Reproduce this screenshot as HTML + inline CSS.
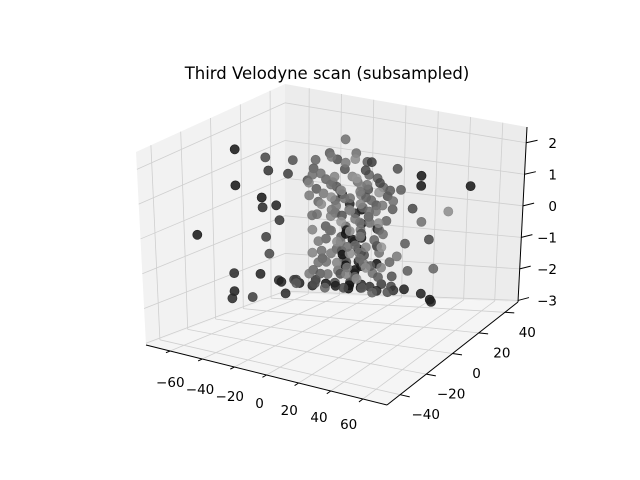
<!DOCTYPE html>
<html><head><meta charset="utf-8"><style>
html,body{margin:0;padding:0;background:#fff;}
svg{display:block;font-family:"DejaVu Sans","Liberation Sans",sans-serif;}
</style></head><body>
<svg id="chart" width="640" height="480" viewBox="0 0 640 480" xmlns="http://www.w3.org/2000/svg">
<text x="327" y="79" text-anchor="middle" font-size="16.5" fill="#000">Third Velodyne scan (subsampled)</text>
<g id="panes"></g>
<g id="grid"></g>
<g id="axes"></g>
<g id="pts"></g>
</svg>
<script>
const xTicks=[-60,-40,-20,0,20,40,60];
const yTicks=[-40,-20,0,20,40];
const zTicks=[-3,-2,-1,0,1,2];
const xs=[
-67,-67,-67,-67,
-60,-60,-62,-58,-60,-62,-58,-56,-55,-52,-58,-55,-50,-48,
-67,-64,-60,
0,5,10,15,15,45,50,10,20,25,30,25,35,40,12,5,
-30,
-38,-25,-10,
-45,-35,-28,-18,-12,
-48,-40,-32,-22,-15,-8,-3,
-50,-42,-36,-30,-24,-18,-12,-6,0,
-48,-40,-35,-30,-25,-20,-15,-10,-5,2,
-45,-38,-32,-27,-22,-17,-12,-7,0,
-44,-36,-30,-25,-20,-15,-9,-2,
-42,-36,-31,-27,-24,-20,-16,-10,-4,
-40,-34,-29,-25,-22,-18,-13,-6,
-41,-35,-30,-26,-23,-19,-14,-8,
-44,-38,-32,-27,-24,-21,-16,-10,-3,
-48,-40,-34,-29,-25,-22,-18,-12,-5,2,
-70,-62,-55,-50,-45,-40,-36,-32,-28,-25,-22,-19,-16,-12,-8,-4,0,5,10,
-28,-15,
-38,-26,-14,-4,
-42,-30,-20,-10,0,
-40,-28,-18,-8,4,
-36,-26,-16,-6,
-40,-30,-20,-10,0,
-38,-28,-18,-8,
-36,-26,-16,-6,2,
-38,-28,-18,-8,
-36,-26,-16,-6,2,
-40,-30,-20,-10,
-50,-40,-30,-20,-10,0,8,
-22,-22,-22,-22,-22,-12,-12,-12];
const ys=[
7,7,-20,5,
20,22,20,25,20,18,20,25,30,30,15,25,30,20,
5,0,10,
45,42,45,45,45,30,40,40,40,40,38,35,30,25,40,40,
42,
40,44,38,
38,42,40,44,36,
40,36,44,38,42,40,36,
38,42,40,36,44,40,38,42,40,
42,38,44,40,36,42,40,38,44,40,
40,44,38,42,36,40,44,38,42,
38,42,40,44,38,42,36,40,
42,38,44,40,36,42,38,44,40,
40,44,38,42,40,36,44,38,
38,42,40,36,44,40,38,42,
42,38,44,40,36,42,40,38,44,
40,36,42,38,44,40,36,42,38,40,
40,42,38,44,36,40,42,38,44,40,36,42,38,40,44,36,42,38,40,
30,32,
28,30,32,28,
30,32,28,30,32,
28,30,32,28,30,
32,28,30,32,
30,32,28,30,32,
28,30,32,28,
30,32,28,30,32,
28,30,32,28,
30,32,28,30,32,
28,30,32,28,
30,32,28,30,32,28,30,
45,45,45,45,45,45,45,45];
const zs=[
1.6,0.6,-0.3,-1.8,
1.2,0.8,-0.2,-0.2,-1.0,-2.0,-1.45,-0.6,0.6,1.0,0.2,-2.3,-2.3,-2.5,
-2.3,-2.4,-2.5,
0.8,0.3,-0.3,0.7,0.4,0.3,0.8,-1.2,-0.5,-1.0,-1.8,-2.5,-2.5,-2.4,-2.0,-1.6,
1.5,
1.1,1.1,1.1,
0.9,0.9,0.9,0.9,0.9,
0.6,0.6,0.6,0.6,0.6,0.6,0.6,
0.3,0.3,0.3,0.3,0.3,0.3,0.3,0.3,0.3,
0,0,0,0,0,0,0,0,0,0,
-0.3,-0.3,-0.3,-0.3,-0.3,-0.3,-0.3,-0.3,-0.3,
-0.6,-0.6,-0.6,-0.6,-0.6,-0.6,-0.6,-0.6,
-1.0,-1.0,-1.0,-1.0,-1.0,-1.0,-1.0,-1.0,-1.0,
-1.3,-1.3,-1.3,-1.3,-1.3,-1.3,-1.3,-1.3,
-1.6,-1.6,-1.6,-1.6,-1.6,-1.6,-1.6,-1.6,
-1.9,-1.9,-1.9,-1.9,-1.9,-1.9,-1.9,-1.9,-1.9,
-2.2,-2.2,-2.2,-2.2,-2.2,-2.2,-2.2,-2.2,-2.2,-2.2,
-2.55,-2.55,-2.55,-2.55,-2.55,-2.55,-2.55,-2.55,-2.55,-2.55,-2.55,-2.55,-2.55,-2.55,-2.55,-2.55,-2.55,-2.55,-2.55,
1.3,1.3,
0.75,0.75,0.75,0.75,
0.45,0.45,0.45,0.45,0.45,
0.15,0.15,0.15,0.15,0.15,
-0.15,-0.15,-0.15,-0.15,
-0.45,-0.45,-0.45,-0.45,-0.45,
-0.8,-0.8,-0.8,-0.8,
-1.15,-1.15,-1.15,-1.15,-1.15,
-1.45,-1.45,-1.45,-1.45,
-1.75,-1.75,-1.75,-1.75,-1.75,
-2.05,-2.05,-2.05,-2.05,
-2.4,-2.4,-2.4,-2.4,-2.4,-2.4,-2.4,
-0.5,-0.9,-1.3,-1.7,-2.1,-1.0,-1.5,-2.0];
const shades=[
20,20,20,40,
70,50,40,30,60,30,70,50,60,80,20,30,60,40,
30,40,60,
80,90,70,20,20,140,20,90,110,70,100,30,20,30,90,120,
110,
90,110,60,
100,80,120,90,70,
90,110,80,130,100,90,70,
80,100,120,90,110,130,80,100,90,
90,120,100,40,110,130,90,100,80,110,
100,90,120,30,110,100,80,120,90,
110,100,80,40,120,90,110,100,
90,110,100,30,20,120,80,100,110,
100,90,120,20,30,110,100,90,
110,100,90,20,25,120,80,110,
90,110,100,80,20,30,120,90,100,
100,90,110,80,20,30,100,110,90,80,
40,60,30,50,40,20,70,30,60,20,20,40,30,50,60,40,70,50,30,
120,140,
110,130,150,120,
130,110,140,120,150,
120,140,110,130,120,
140,120,130,110,
110,130,150,120,140,
130,110,140,120,
120,140,110,130,150,
130,120,140,110,
110,130,120,140,130,
120,110,130,140,
90,80,100,70,90,100,80,
15,15,15,15,15,15,15,15];

const XMIN=-75,XMAX=75,YMIN=-50,YMAX=50,ZMIN=-3.05,ZMAX=2.5;
const B00=[146,345],B10=[387,405],B01=[285,293],B11=[518,302];
const T00=[136,152],T10=[389,252],T01=[285,84],T11=[527,127];
function bil(a,b,c,d,u,v){const p0=[a[0]+(b[0]-a[0])*u,a[1]+(b[1]-a[1])*u];const p1=[c[0]+(d[0]-c[0])*u,c[1]+(d[1]-c[1])*u];return [p0[0]+(p1[0]-p0[0])*v,p0[1]+(p1[1]-p0[1])*v];}
function projN(u,v,w){const b=bil(B00,B10,B01,B11,u,v),t=bil(T00,T10,T01,T11,u,v);return [b[0]+(t[0]-b[0])*w,b[1]+(t[1]-b[1])*w];}
const sx=x=>(x-XMIN)/(XMAX-XMIN),sy=y=>(y-YMIN)/(YMAX-YMIN),sz=z=>(z-ZMIN)/(ZMAX-ZMIN);
function P(x,y,z){return projN(sx(x),sy(y),sz(z));}
const NS='http://www.w3.org/2000/svg';
function mk(tag,attrs,parent){const e=document.createElementNS(NS,tag);for(const k in attrs)e.setAttribute(k,attrs[k]);parent.appendChild(e);return e;}
const panes=document.getElementById('panes'),grid=document.getElementById('grid'),axes=document.getElementById('axes'),pts=document.getElementById('pts');
function poly(ptsArr){return ptsArr.map(p=>p[0].toFixed(1)+','+p[1].toFixed(1)).join(' ');}
let e;
e=mk('polygon',{points:poly([projN(0,0,0),projN(0,1,0),projN(0,1,1),projN(0,0,1)]),fill:'#f2f2f2'},panes);

e=mk('polygon',{points:poly([projN(0,1,0),projN(1,1,0),projN(1,1,1),projN(0,1,1)]),fill:'#ececec'},panes);

e=mk('polygon',{points:poly([projN(0,0,0),projN(1,0,0),projN(1,1,0),projN(0,1,0)]),fill:'#f5f5f5'},panes);

function ln(a,b,col,w,parent,name){const l=mk('line',{x1:a[0],y1:a[1],x2:b[0],y2:b[1],stroke:col,'stroke-width':w},parent);return l;}
const GC='#cfcfcf';
xTicks.forEach(t=>{const u=sx(t);ln(projN(u,0,0),projN(u,1,0),GC,0.8,grid,'x-grid-floor');ln(projN(u,1,0),projN(u,1,1),GC,0.8,grid,'x-grid-back');});
yTicks.forEach(t=>{const v=sy(t);ln(projN(0,v,0),projN(1,v,0),GC,0.8,grid,'y-grid-floor');ln(projN(0,v,0),projN(0,v,1),GC,0.8,grid,'y-grid-left');});
zTicks.forEach(t=>{const w=sz(t);ln(projN(0,0,w),projN(0,1,w),GC,0.8,grid,'z-grid-left');ln(projN(0,1,w),projN(1,1,w),GC,0.8,grid,'z-grid-back');});
ln(projN(0,0,0),projN(1,0,0),'#000',1,axes,'x-axis-line');
ln(projN(1,0,0),projN(1,1,0),'#000',1,axes,'y-axis-line');
ln(projN(1,1,0),projN(1,1,1),'#000',1,axes,'z-axis-line');
function txt(s,x,y,anchor,name){const t=mk('text',{x:x,y:y,'text-anchor':anchor,'font-size':'13.5',fill:'#000'},axes);t.textContent=s;}
const fmt=t=>(t<0?'\u2212'+Math.abs(t):String(t));
xTicks.forEach(t=>{const u=sx(t);const a=projN(u,0,0),b=projN(u,-0.03,0);ln(a,b,'#000',1,axes,'x-tick');txt(fmt(t),a[0]+2-18*u,a[1]+37-8*u,'middle','x-tick-label');});
yTicks.forEach(t=>{const v=sy(t);const a=projN(1,v,0),b=projN(1.04,v,0);ln(a,b,'#000',1,axes,'y-tick');txt(fmt(t),a[0]+26-4*v,a[1]+24+1*v,'middle','y-tick-label');});
zTicks.forEach(t=>{const w=sz(t);const a=projN(1,1,w),b=projN(1.03,1.03,w);ln(a,b,'#000',1,axes,'z-tick');txt(fmt(t),557,a[1]+5,'end','z-tick-label');});
const idx=xs.map((_,i)=>i).sort((a,b)=>(sy(ys[b])-sx(xs[b])*0.3)-(sy(ys[a])-sx(xs[a])*0.3));
idx.forEach(i=>{const p=P(xs[i],ys[i],zs[i]);const s=shades[i];
const c=mk('circle',{cx:p[0].toFixed(1),cy:p[1].toFixed(1),r:4.6,fill:'rgb('+s+','+s+','+s+')','fill-opacity':0.85,stroke:'rgb('+s+','+s+','+s+')','stroke-opacity':0.9,'stroke-width':0.6},pts);

});
</script>
</body></html>
